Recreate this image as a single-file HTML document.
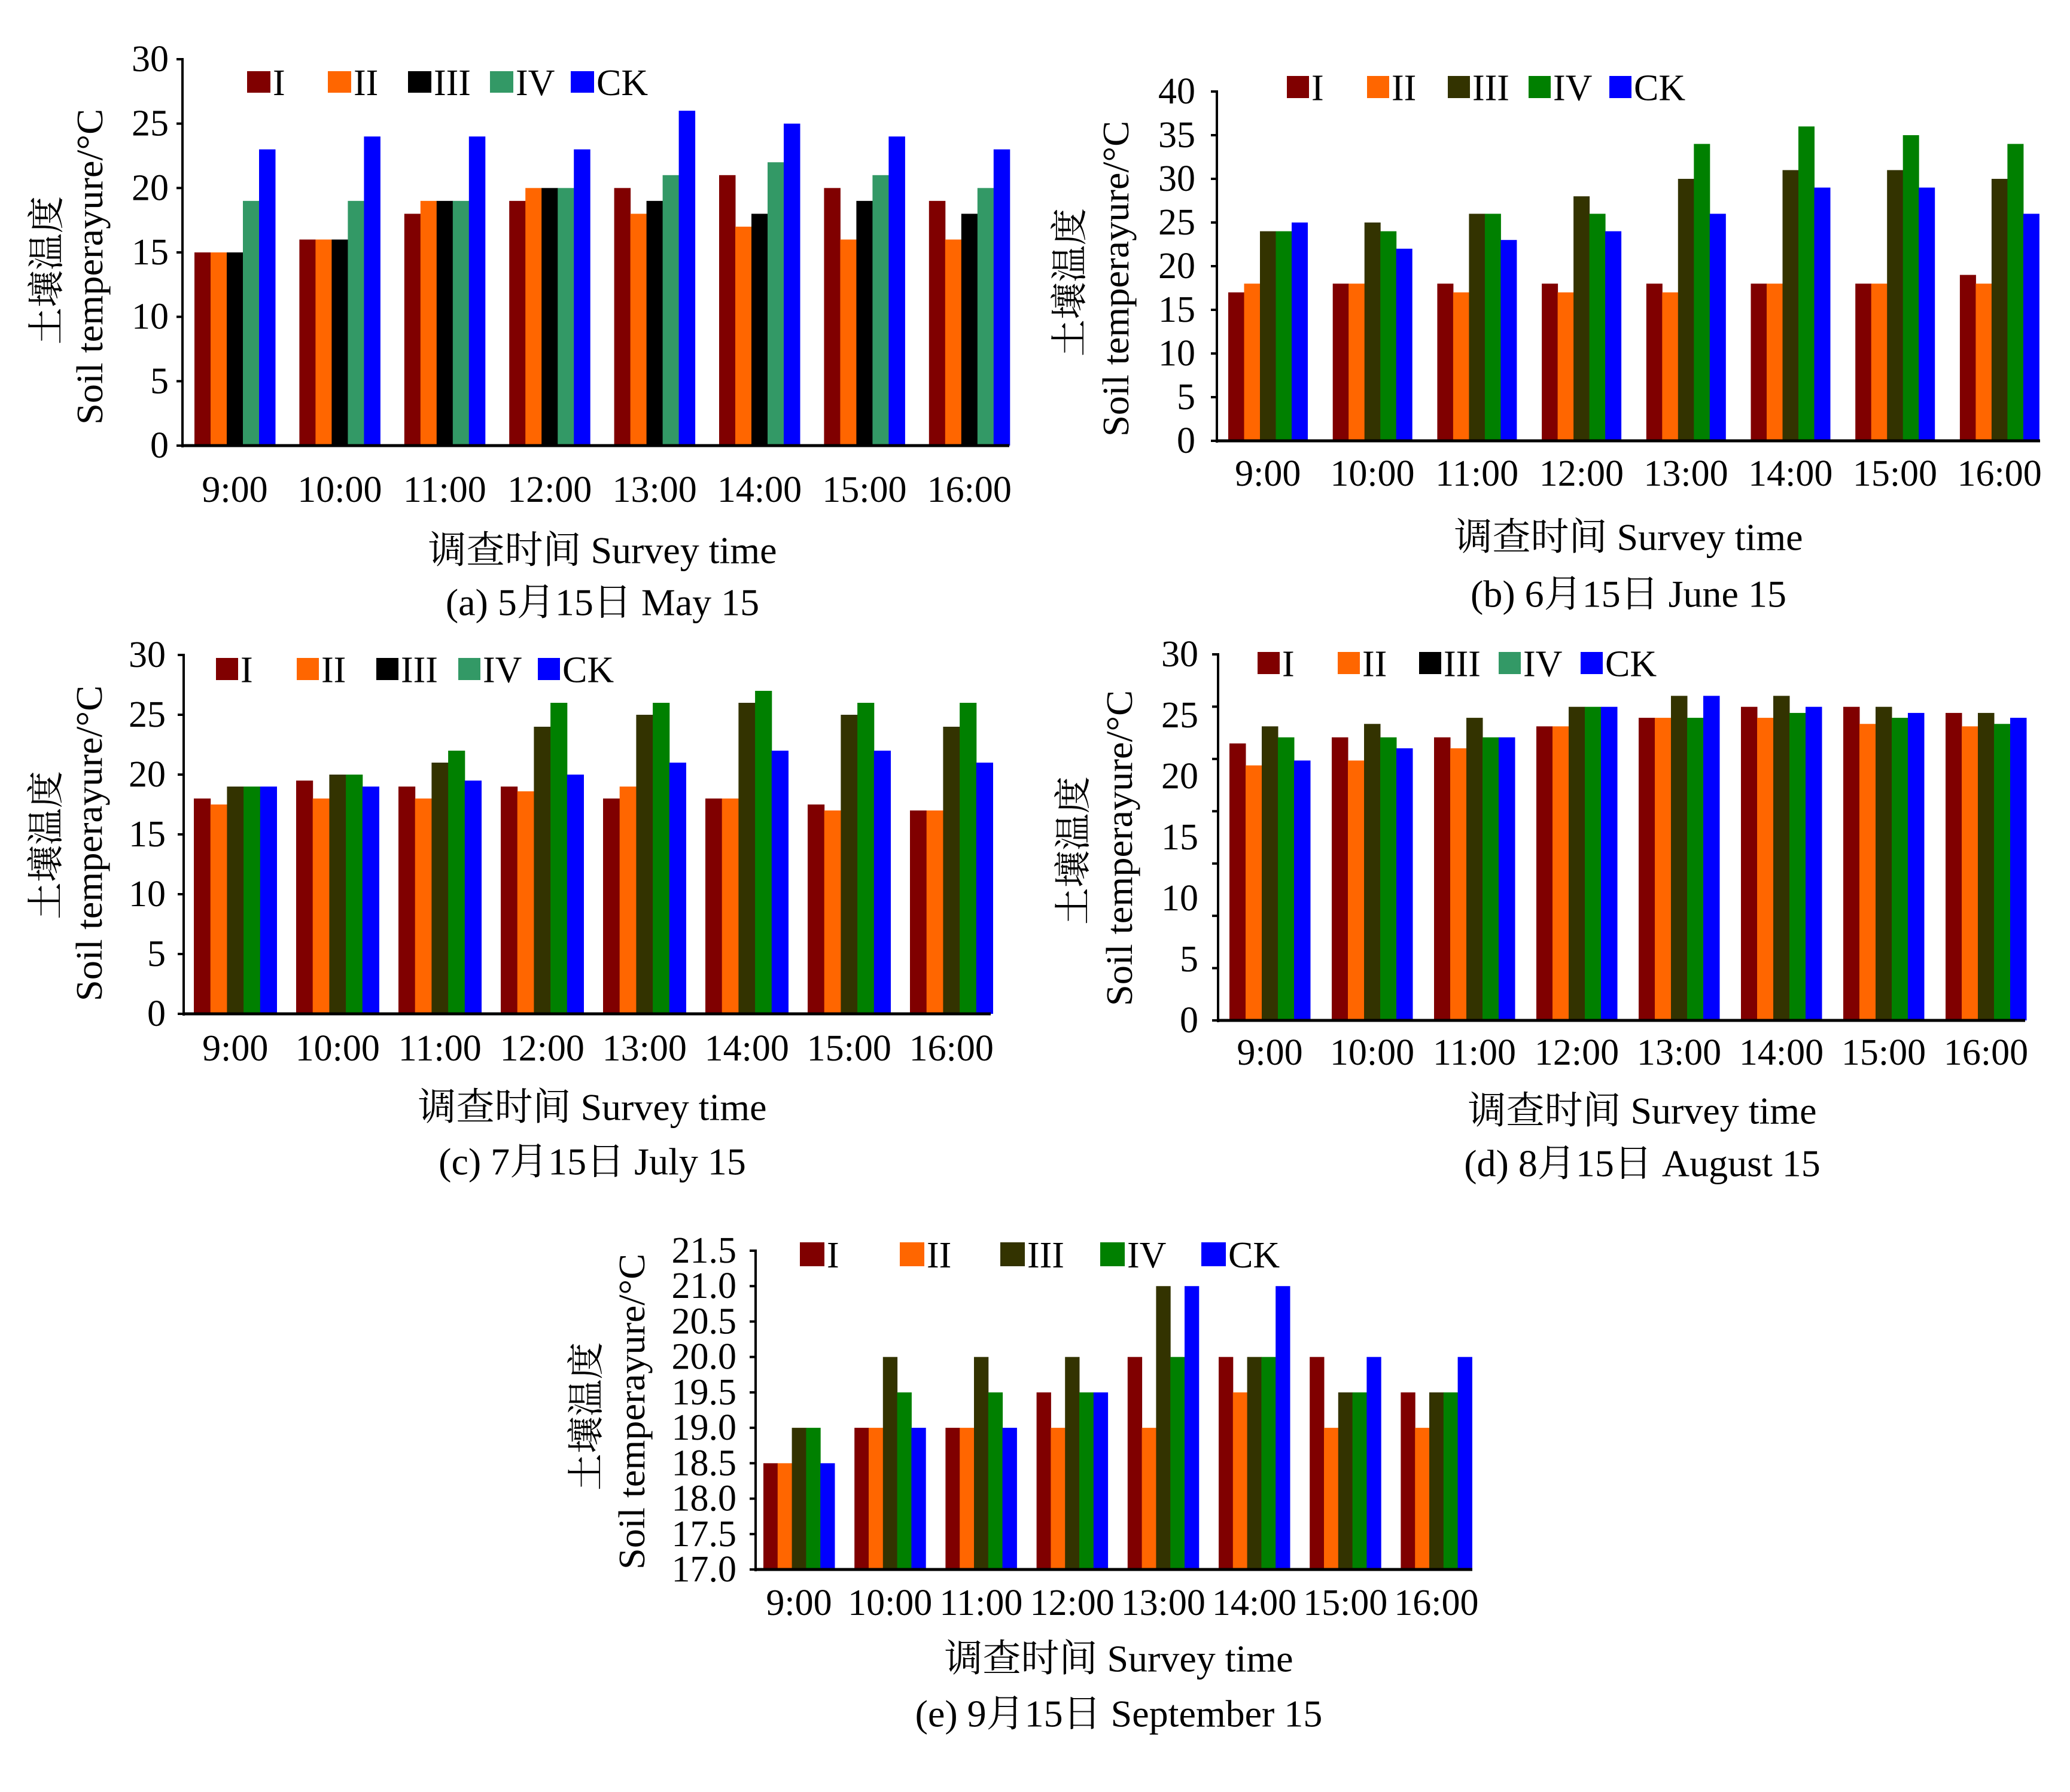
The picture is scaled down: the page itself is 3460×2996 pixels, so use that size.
<!DOCTYPE html>
<html><head><meta charset="utf-8"><style>
html,body{margin:0;padding:0;background:#fff;}
svg{display:block;}
text{font-family:"Liberation Serif","Noto Serif CJK SC","Noto Sans CJK SC",serif;fill:#000;}
</style></head><body>
<svg id="fig" width="3460" height="2996" viewBox="0 0 3460 2996" xmlns="http://www.w3.org/2000/svg"></svg>
<script>
const categories = ["9:00","10:00","11:00","12:00","13:00","14:00","15:00","16:00"];
const seriesNames = ["I","II","III","IV","CK"];
// (a) May 15
const mayI  = [15,16,18,19,20,21,20,19];
const mayII = [15,16,19,20,18,17,16,16];
const mayIII= [15,16,19,20,19,18,19,18];
const mayIV = [19,19,19,20,21,22,21,20];
const mayCK = [23,24,24,23,26,25,24,23];
// (b) June 15
const junI  = [17,18,18,18,18,18,18,19];
const junII = [18,18,17,17,17,18,18,18];
const junIII= [24,25,26,28,30,31,31,30];
const junIV = [24,24,26,26,34,36,35,34];
const junCK = [25,22,23,24,26,29,29,26];
// (c) July 15
const julI  = [18,19.5,19,19,18,18,17.5,17];
const julII = [17.5,18,18,18.6,19,18,17,17];
const julIII= [19,20,21,24,25,26,25,24];
const julIV = [19,20,22,26,26,27,26,26];
const julCK = [19,19,19.5,20,21,22,22,21];
// (d) August 15
const augI  = [22.7,23.2,23.2,24.1,24.8,25.7,25.7,25.2];
const augII = [20.9,21.3,22.3,24.1,24.8,24.8,24.3,24.1];
const augIII= [24.1,24.3,24.8,25.7,26.6,26.6,25.7,25.2];
const augIV = [23.2,23.2,23.2,25.7,24.8,25.2,24.8,24.3];
const augCK = [21.3,22.3,23.2,25.7,26.6,25.7,25.2,24.8];
// (e) September 15
const sepI  = [18.5,19,19,19.5,20,20,20,19.5];
const sepII = [18.5,19,19,19,19,19.5,19,19];
const sepIII= [19,20,20,20,21,20,19.5,19.5];
const sepIV = [19,19.5,19.5,19.5,20,20,19.5,19.5];
const sepCK = [18.5,19,19,19.5,21,21,20,20];
// tick labels
const ticks30 = [0,5,10,15,20,25,30];
const ticks40 = [0,5,10,15,20,25,30,35,40];
const ticksSep = [17.0,17.5,18.0,18.5,19.0,19.5,20.0,20.5,21.0,21.5];

const NS="http://www.w3.org/2000/svg";
const svg=document.getElementById('fig');
function mk(tag,attrs,parent){const e=document.createElementNS(NS,tag);for(const k in attrs)e.setAttribute(k,attrs[k]);(parent||svg).appendChild(e);return e;}

const barA=["#800000","#ff6600","#000000","#339966","#0000ff"];
const barB=["#800000","#ff6600","#333300","#008000","#0000ff"];

function drawChart(c){
  const g=mk('g',{});
  
  
  const min=c.ticks[0],max=c.ticks[c.ticks.length-1];
  const y=v=>c.yZero-(v-min)/(max-min)*(c.yZero-c.yTop);
  const xg=i=>c.g0+i*c.step;
  // bars
  c.series.forEach((arr,s)=>{
    arr.forEach((v,i)=>{
      const r=mk('rect',{x:xg(i)+s*c.bw,y:y(v),width:c.bw+0.5,height:c.yZero-y(v),fill:c.barColors[s]},g);
      
      
    });
  });
  // axes
  const ya=mk('line',{x1:c.x0,y1:c.yTop-2,x2:c.x0,y2:c.yZero+3,stroke:'#000','stroke-width':4},g);
  
  
  const xa=mk('line',{x1:c.x0-2,y1:c.yZero,x2:c.x1,y2:c.yZero,stroke:'#000','stroke-width':5},g);
  
  
  // tick marks
  const nT=c.tickMarks||(c.ticks.length-1);
  for(let k=0;k<=nT;k++){
    const ty=c.yZero-k*(c.yZero-c.yTop)/nT;
    mk('line',{x1:c.x0-10,y1:ty,x2:c.x0,y2:ty,stroke:'#000','stroke-width':4},g);
  }
  // tick labels
  c.ticks.forEach(t=>{
    const tl=mk('text',{x:c.tickRight,y:y(t),'font-size':62,'text-anchor':'end','dominant-baseline':'central'},g);
    tl.textContent=c.dec?t.toFixed(1):String(t);
    
    
  });
  // category labels
  categories.forEach((cat,i)=>{
    const cl=mk('text',{x:xg(i)+c.bw*2.5,y:c.xLabY,'font-size':62,'text-anchor':'middle','dominant-baseline':'central'},g);
    cl.textContent=cat;
    
    
  });
  // x title
  const xt=mk('text',{x:c.xTitleX,y:c.xTitleY,'font-size':64,'text-anchor':'middle','dominant-baseline':'central'},g);
  xt.textContent='调查时间 Survey time';
  
  
  const cap=mk('text',{x:c.xTitleX,y:c.capY,'font-size':64,'text-anchor':'middle','dominant-baseline':'central'},g);
  cap.textContent=c.caption;
  
  
  // y titles
  const y1=mk('text',{x:0,y:0,'font-size':62,'text-anchor':'middle','dominant-baseline':'central',transform:`translate(${c.cnX},${c.cnY}) rotate(-90)`},g);
  y1.textContent='土壤温度';
  
  
  const y2=mk('text',{x:0,y:0,'font-size':62,'text-anchor':'middle','dominant-baseline':'central',textLength:528,lengthAdjust:'spacingAndGlyphs',transform:`translate(${c.enX},${c.enY}) rotate(-90)`},g);
  y2.textContent='Soil temperayure/°C';
  
  
  // legend
  c.legX.forEach((lx,s)=>{
    const lg=mk('g',{},g);
    
    
    mk('rect',{x:lx,y:c.legY,width:c.legW,height:c.legH,fill:c.legColors[s]},lg);
    const lt=mk('text',{x:lx+c.legW+4,y:c.legY+c.legH/2+2,'font-size':62,'dominant-baseline':'central'},lg);
    lt.textContent=seriesNames[s];
  });
}

drawChart({id:'a',series:[mayI,mayII,mayIII,mayIV,mayCK],ticks:ticks30,barColors:barA,legColors:barA,
  x0:305,x1:1687,yTop:99,yZero:745,g0:325,step:175.4,bw:27,tickRight:282,xLabY:819,xTitleX:1007,xTitleY:920,capY:1007,
  caption:'(a) 5月15日 May 15',cnX:79,cnY:452,enX:151,enY:446,legX:[413,548,682,819,954],legY:119,legW:39,legH:36});
drawChart({id:'b',series:[junI,junII,junIII,junIV,junCK],ticks:ticks40,barColors:barB,legColors:barB,
  x0:2034,x1:3410,yTop:153,yZero:737,g0:2053,step:174.7,bw:26.5,tickRight:1998,xLabY:792,xTitleX:2722,xTitleY:898,capY:993,
  caption:'(b) 6月15日 June 15',cnX:1789,cnY:472,enX:1866,enY:466,legX:[2151,2285,2420,2555,2690],legY:127,legW:37,legH:37});
drawChart({id:'c',series:[julI,julII,julIII,julIV,julCK],ticks:ticks30,barColors:barB,legColors:barA,
  x0:307,x1:1656,yTop:1095,yZero:1695,g0:324,step:171,bw:27.7,tickRight:277,xLabY:1753,xTitleX:990,xTitleY:1851,capY:1942,
  caption:'(c) 7月15日 July 15',cnX:78,cnY:1413,enX:150,enY:1410,legX:[361,496,629,766,899],legY:1100,legW:37,legH:37});
drawChart({id:'d',series:[augI,augII,augIII,augIV,augCK],ticks:ticks30,tickMarks:7,barColors:barB,legColors:barA,
  x0:2036,x1:3385,yTop:1094,yZero:1706,g0:2055,step:171,bw:27,tickRight:2003,xLabY:1760,xTitleX:2745,xTitleY:1857,capY:1945,
  caption:'(d) 8月15日 August 15',cnX:1795,cnY:1422,enX:1872,enY:1418,legX:[2102,2236,2372,2505,2642],legY:1090,legW:37,legH:37});
drawChart({id:'e',series:[sepI,sepII,sepIII,sepIV,sepCK],ticks:ticksSep,dec:true,barColors:barB,legColors:barB,
  x0:1263,x1:2461,yTop:2091,yZero:2624,g0:1276,step:152.2,bw:23.8,tickRight:1231,xLabY:2680,xTitleX:1870,xTitleY:2773,capY:2865,
  caption:'(e) 9月15日 September 15',cnX:981,cnY:2368,enX:1057,enY:2360,legX:[1337,1504,1672,1839,2008],legY:2077,legW:41,legH:40});
</script>
</body></html>
